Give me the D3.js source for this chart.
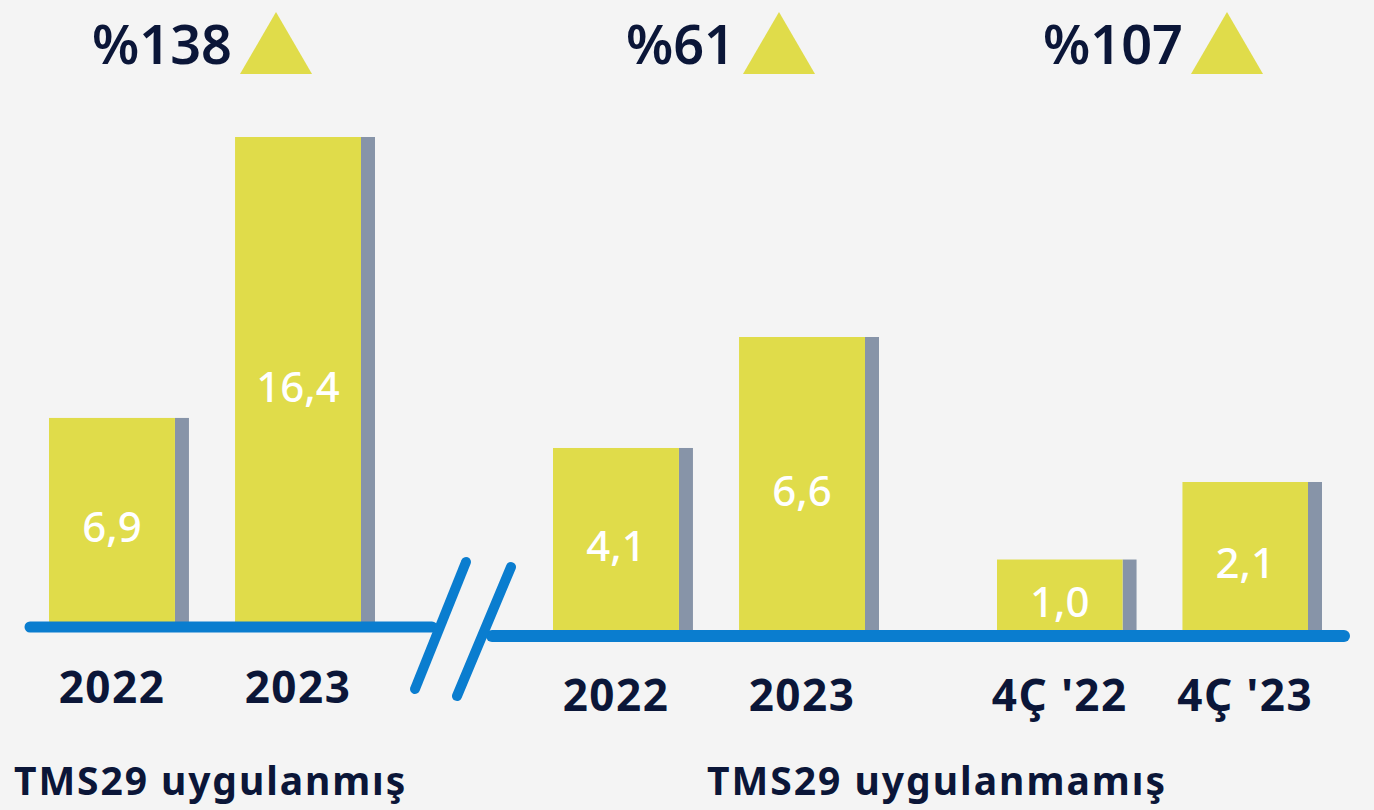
<!DOCTYPE html>
<html>
<head>
<meta charset="utf-8">
<script src="https://cdn.jsdelivr.net/npm/d3@7"></script>
<style>
  html, body { margin: 0; padding: 0; background: #f4f4f4; }
  svg { display: block; font-family: "Noto Sans", "Open Sans", sans-serif; }
</style>
</head>
<body>
<svg id="chart" width="1374" height="810"></svg>
<script>
// data
const groupTitles   = ["TMS29 uygulanmış", "TMS29 uygulanmamış"];
const leftCats      = ["2022", "2023"];
const leftValues    = [6.9, 16.4];
const annualCats    = ["2022", "2023"];
const annualValues  = [4.1, 6.6];
const quarterCats   = ["4Ç '22", "4Ç '23"];
const quarterValues = [1.0, 2.1];
const growthLabels  = ["%138", "%61", "%107"];

const yellow = "#e0dc4a";
const shade  = "#8794a8";
const blue   = "#0a7dcf";
const navy   = "#0b1638";

const svg = d3.select('#chart');
svg.append('rect').attr('width', 1374).attr('height', 810).attr('fill', '#f4f4f4');

const fmt = v => d3.format('.1f')(v).replace('.', ',');

// each panel has its own scale, as in the original
const panels = [
	{ cats: leftCats,    values: leftValues,    x: [49, 361],  base: 622, top: 137, growth: growthLabels[0], gx: 232 },
	{ cats: annualCats,  values: annualValues,  x: [553, 865], base: 630, top: 337, growth: growthLabels[1], gx: 735 },
	{ cats: quarterCats, values: quarterValues, x: [997, 1308], base: 630, top: 482, growth: growthLabels[2], gx: 1183 }
];

panels.forEach(p => {
	const xScale = d3.scaleBand()
		.domain(p.cats)
		.range(p.x)
		.paddingInner(0.323);
	const yScale = d3.scaleLinear()
		.domain([0, d3.max(p.values)])
		.range([p.base, p.top]);

	const data = p.cats.map((c, i) => ({ cat: c, value: p.values[i] }));
	const g = svg.append('g');
	const bw = xScale.bandwidth();

	// side shadow
	g.selectAll('rect.shadow')
		.data(data)
		.enter()
		.append('rect')
		.attr('class', 'shadow')
		.attr('x', d => xScale(d.cat) + bw)
		.attr('y', d => yScale(d.value))
		.attr('width', 14)
		.attr('height', d => p.base - yScale(d.value))
		.attr('fill', shade);

	g.selectAll('rect.bar')
		.data(data)
		.enter()
		.append('rect')
		.attr('class', 'bar')
		.attr('x', d => xScale(d.cat))
		.attr('y', d => yScale(d.value))
		.attr('width', bw)
		.attr('height', d => p.base - yScale(d.value))
		.attr('fill', yellow);

	g.selectAll('text.val')
		.data(data)
		.enter()
		.append('text')
		.attr('x', d => xScale(d.cat) + bw / 2)
		.attr('y', d => (yScale(d.value) + p.base) / 2 + 22)
		.attr('text-anchor', 'middle')
		.attr('fill', '#fff')
		.attr('font-size', 42)
		.attr('font-weight', 500)
		.text(d => fmt(d.value));

	g.selectAll('text.cat')
		.data(data)
		.enter()
		.append('text')
		.attr('x', d => xScale(d.cat) + bw / 2)
		.attr('y', p.base + 81)
		.attr('text-anchor', 'middle')
		.attr('fill', navy)
		.attr('font-size', 44)
		.attr('font-weight', 700)
		.attr('letter-spacing', 1.5)
		.text(d => d.cat);

	// growth label + triangle
	g.append('text')
		.attr('x', p.gx)
		.attr('y', 64)
		.attr('text-anchor', 'end')
		.attr('fill', navy)
		.attr('font-size', 54)
		.attr('font-weight', 600)
		.text(p.growth);
	const tx = p.gx + 8;
	g.append('path')
		.attr('d', `M${tx},74 L${tx + 36},12 L${tx + 72},74 Z`)
		.attr('fill', yellow);
});

// axis lines with the break
const line = d3.line();
svg.append('path')
	.attr('d', line([[30, 627], [432, 627]]))
	.attr('stroke', blue).attr('stroke-width', 11).attr('stroke-linecap', 'round').attr('fill', 'none');
svg.append('path')
	.attr('d', line([[492, 636], [1344, 636]]))
	.attr('stroke', blue).attr('stroke-width', 12).attr('stroke-linecap', 'round').attr('fill', 'none');
[[[466, 562], [415, 689]], [[511, 567], [457, 696]]].forEach(pts => {
	svg.append('path')
		.attr('d', line(pts))
		.attr('stroke', blue).attr('stroke-width', 10).attr('stroke-linecap', 'round').attr('fill', 'none');
});

// group titles
svg.append('text')
	.attr('x', 14).attr('y', 795)
	.attr('fill', navy).attr('font-size', 39).attr('font-weight', 700)
	.attr('letter-spacing', 1.9)
	.text(groupTitles[0]);
svg.append('text')
	.attr('x', 937).attr('y', 795)
	.attr('text-anchor', 'middle')
	.attr('fill', navy).attr('font-size', 39).attr('font-weight', 700)
	.attr('letter-spacing', 2)
	.text(groupTitles[1]);
</script>
</body>
</html>
